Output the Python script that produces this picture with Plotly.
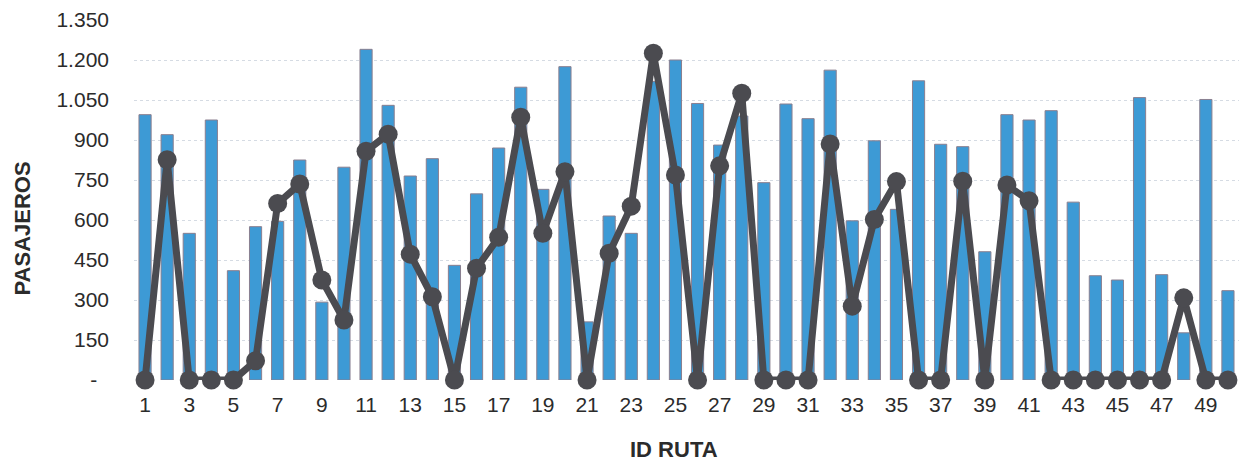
import plotly.graph_objects as go

rutas = list(range(1, 51))

bar_values = [995, 920, 550, 975, 410, 575, 595, 825, 292, 798,
              1240, 1030, 765, 830, 430, 698, 870, 1098, 715, 1175,
              218, 615, 550, 1120, 1200, 1037, 881, 990, 740, 1035,
              980, 1162, 597, 897, 640, 1122, 884, 875, 481, 995,
              975, 1010, 667, 391, 375, 1059, 395, 177, 1052, 335]

line_values = [0, 826, 0, 0, 0, 72, 662, 735, 375, 225,
               858, 922, 472, 312, 0, 419, 535, 985, 550, 781,
               0, 475, 652, 1225, 769, 0, 803, 1075, 0, 0,
               0, 885, 277, 602, 744, 0, 0, 745, 0, 731,
               672, 0, 0, 0, 0, 0, 0, 308, 0, 0]

y_tick_vals = [0, 150, 300, 450, 600, 750, 900, 1050, 1200, 1350]
y_tick_text = ["-\u00a0\u00a0", "150", "300", "450", "600", "750", "900", "1.050", "1.200", "1.350"]
x_tick_vals = list(range(1, 51, 2))

FONT = "Liberation Sans, Arial, sans-serif"
TXT = "#2b2b2b"

fig = go.Figure()
fig.add_trace(go.Bar(
    x=rutas, y=bar_values, width=0.55,
    marker=dict(color="#3d9ad5", line=dict(color="#8a7f8f", width=1)),
    showlegend=False,
))
fig.add_trace(go.Scatter(
    x=rutas, y=line_values, mode="lines+markers",
    line=dict(color="#4b4b50", width=7),
    marker=dict(color="#4b4b50", size=19),
    cliponaxis=False, showlegend=False,
))

fig.update_layout(
    width=1244, height=455,
    margin=dict(l=126, r=13, t=12, b=83),
    paper_bgcolor="white", plot_bgcolor="white",
    font=dict(family=FONT, size=21, color=TXT),
    xaxis=dict(
        range=[0.5, 50.5], tickmode="array", tickvals=x_tick_vals,
        ticks="", showgrid=False, zeroline=False, showline=False,
        tickfont=dict(size=21, color=TXT), automargin=False, ticklabelstandoff=10,
    ),
    yaxis=dict(
        range=[0, 1350], tickmode="array", tickvals=y_tick_vals, ticktext=y_tick_text,
        showgrid=True, gridcolor="#d5dbe3", griddash="dot", gridwidth=1,
        zeroline=False, showline=False, ticks="", ticklabelstandoff=24,
        tickfont=dict(size=21, color=TXT), automargin=False,
    ),
    annotations=[
        dict(text="<b>ID RUTA</b>", xref="paper", yref="paper", x=0.489, y=-0.192,
             yanchor="middle", xanchor="center", showarrow=False,
             font=dict(size=22, color=TXT)),
        dict(text="<b>PASAJEROS</b>", xref="paper", yref="paper", x=-0.101, y=0.422,
             xanchor="center", yanchor="middle", textangle=-90, showarrow=False,
             font=dict(size=22, color=TXT)),
    ],
)

fig.write_html("out.html")
